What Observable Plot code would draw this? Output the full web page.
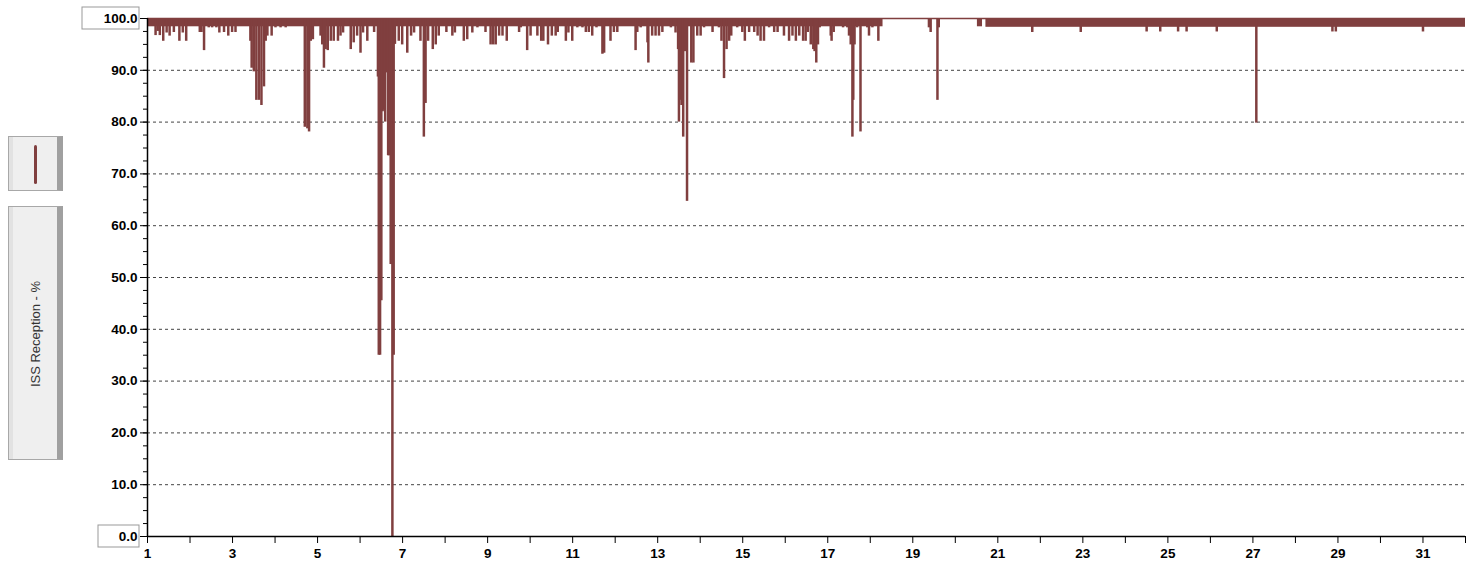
<!DOCTYPE html>
<html>
<head>
<meta charset="utf-8">
<script src="https://cdn.jsdelivr.net/npm/d3@7"></script>
<script src="https://cdn.jsdelivr.net/npm/@observablehq/plot@0.6"></script>
<style>
  html, body { margin: 0; padding: 0; background: #fff; }
  #wrap { position: relative; width: 1478px; height: 567px; overflow: hidden; }
  #chart { position: absolute; left: 0; top: 0; }
  .lbox { position: absolute; left: 8px; width: 48px; background: #efefef;
          border: 1px solid #a8a8a8; border-right: 6px solid #a0a0a0; box-sizing: content-box; }
  .lbox::before { content: ""; position: absolute; left: 0; top: 0; bottom: 0; width: 4px; background: #e2e2e2; }
  #swatch { top: 136px; height: 53px; }
  #swatch .line { position: absolute; left: 25px; top: 8px; width: 3px; height: 39px; border-radius: 2px; background: #803f3f; }
  #title { top: 206px; height: 252px; }
  #title span { position: absolute; left: 26px; top: 127px; transform: translate(-50%, -50%) rotate(-90deg);
                white-space: nowrap; font: 13px "Liberation Sans", Arial, sans-serif; color: #333; }
</style>
</head>
<body>
<div id="wrap">
  <div id="chart"></div>
  <div class="lbox" id="swatch"><div class="line"></div></div>
  <div class="lbox" id="title"><span>ISS Reception - %</span></div>
</div>
<script>
// ---- data (day of month, reception %) ----
const bandStart = [1.0, 20.52, 20.72];
const bandEnd   = [18.3, 20.64, 32.0];
const bandLow   = [98.4, 98.4, 98.3];

const dipDays = [
  1.19, 1.24, 1.29, 1.37, 1.45, 1.52, 1.62, 1.75, 1.83, 1.91,
  2.23, 2.27, 2.33, 2.44, 2.52, 2.62, 2.69, 2.80, 2.90, 2.99, 3.07,
  3.42, 3.45, 3.50, 3.56, 3.62, 3.68, 3.74, 3.78, 3.82, 3.92,
  4.01, 4.13, 4.25, 4.70, 4.76, 4.80, 4.84, 4.89,
  5.07, 5.11, 5.15, 5.19, 5.24, 5.31, 5.38, 5.48, 5.54, 5.60, 5.78, 5.85, 5.93,
  6.01, 6.07, 6.17, 6.33,
  6.42, 6.44, 6.47, 6.50, 6.53, 6.56, 6.59, 6.62, 6.66, 6.69, 6.72, 6.76, 6.79, 6.82,
  6.91, 6.99, 7.11, 7.20, 7.27, 7.42, 7.50, 7.54, 7.60, 7.71, 7.78, 7.85,
  8.03, 8.17, 8.23, 8.44, 8.52, 8.64, 8.76, 8.95,
  9.07, 9.13, 9.19, 9.27, 9.35, 9.45, 9.74, 9.78, 9.93,
  10.01, 10.17, 10.26, 10.31, 10.42, 10.51, 10.60, 10.65, 10.84, 10.90, 10.99,
  11.11, 11.23, 11.31, 11.38, 11.46, 11.56, 11.70, 11.74, 11.89, 11.97,
  12.05, 12.48, 12.52, 12.60, 12.76, 12.78, 12.87, 12.95,
  13.03, 13.11, 13.31, 13.42, 13.48, 13.50, 13.53, 13.56, 13.60, 13.64, 13.69, 13.79, 13.84, 13.93,
  14.01, 14.09, 14.29, 14.44, 14.50, 14.56, 14.62, 14.68, 14.73, 14.87, 14.99,
  15.05, 15.15, 15.27, 15.35, 15.42, 15.50, 15.62, 15.74, 15.82, 15.97,
  16.09, 16.17, 16.25, 16.33, 16.42, 16.48, 16.53, 16.60, 16.66, 16.69, 16.73, 16.77, 16.81,
  17.07, 17.09, 17.14, 17.36, 17.46, 17.50, 17.54, 17.58, 17.60, 17.63, 17.69, 17.77, 17.93, 17.97,
  18.05, 18.19, 19.38, 19.42, 19.58, 19.61,
  21.81, 22.95, 24.50, 24.82, 25.24, 25.44, 26.15, 27.08, 28.87, 28.95, 31.00
];
const dipValues = [
  96.7, 97.5, 96.7, 95.6, 97.2, 96.6, 97.3, 95.6, 97.2, 95.6,
  97.3, 97.3, 93.8, 98.2, 98.2, 98.2, 97.2, 97.3, 96.6, 97.3, 97.3,
  95.6, 90.4, 89.7, 84.2, 84.2, 83.2, 86.8, 95.6, 96.6, 96.6,
  98.2, 98.2, 98.2, 79.0, 78.7, 78.1, 95.6, 95.9,
  96.6, 94.9, 90.4, 94.0, 93.8, 95.6, 95.6, 95.6, 96.6, 97.2, 94.0, 95.3, 96.6,
  93.3, 97.2, 95.6, 97.3,
  88.7, 35.0, 35.0, 45.5, 82.0, 82.3, 80.0, 89.5, 73.5, 73.5, 52.5, 0.0, 35.0, 95.0,
  95.6, 94.9, 93.3, 96.6, 97.2, 95.6, 77.1, 83.6, 95.6, 94.0, 94.9, 96.6,
  97.3, 96.6, 97.2, 95.6, 95.9, 97.2, 98.2, 97.3,
  94.9, 94.9, 94.9, 96.6, 96.6, 95.6, 97.3, 98.2, 93.8,
  96.6, 96.6, 95.6, 95.6, 94.9, 96.6, 96.6, 97.3, 95.6, 97.2, 95.6,
  98.2, 98.2, 97.3, 97.3, 96.6, 98.2, 93.1, 93.3, 95.6, 97.3,
  97.3, 93.8, 97.3, 98.2, 95.3, 91.4, 96.6, 96.6,
  96.6, 97.3, 98.2, 97.2, 94.0, 80.0, 84.2, 83.2, 77.1, 93.6, 64.7, 91.4, 91.4, 96.6,
  96.6, 98.2, 97.3, 98.2, 95.6, 88.4, 94.0, 95.6, 96.6, 98.2, 97.3,
  95.6, 97.3, 97.3, 96.6, 95.6, 95.6, 98.2, 97.3, 97.3, 96.6,
  95.6, 96.6, 95.6, 96.6, 95.6, 95.6, 97.3, 94.9, 94.0, 93.6, 91.4, 94.9, 98.2,
  96.6, 95.6, 97.3, 98.2, 98.2, 96.6, 94.9, 77.1, 84.2, 94.9, 98.2, 78.1, 98.2, 96.6,
  98.2, 95.6, 98.2, 97.3, 84.2, 98.2,
  97.3, 97.3, 97.4, 97.4, 97.4, 97.4, 97.4, 79.8, 97.4, 97.4, 97.4
];

const yMajor = [0, 10, 20, 30, 40, 50, 60, 70, 80, 90, 100];
const yMinor = d3.range(0, 100.01, 2.5);
const xTicks = d3.range(1, 33);

const bands = bandStart.map((s, i) => ({start: s, end: bandEnd[i], low: bandLow[i]}));
const dips = dipDays.map((d, i) => ({day: d, value: dipValues[i]}));
const red = "#803f3f";

const plot = Plot.plot({
  width: 1478,
  height: 567,
  marginLeft: 147,
  marginRight: 13,
  marginTop: 18,
  marginBottom: 31,
  x: {domain: [1, 32]},
  y: {domain: [0, 100]},
  style: {fontFamily: "'Liberation Sans', Arial, sans-serif", fontSize: "13.5px", fontWeight: "bold", color: "#000", background: "transparent"},
  marks: [
    Plot.gridY(yMajor.filter(d => d > 0 && d < 100), {stroke: "#444", strokeOpacity: 1, strokeDasharray: "3,3"}),
    Plot.rect(bands, {x1: "start", x2: "end", y1: "low", y2: 100, fill: red}),
    Plot.ruleX(dips, {x: "day", y1: "value", y2: 100, stroke: red, strokeWidth: 2.5}),
    Plot.ruleY([100], {x1: 1, x2: 32, stroke: red, strokeWidth: 1.5}),
    Plot.axisY(yMinor, {tickSize: 4, tickFormat: () => "", stroke: "#000"}),
    Plot.axisY(yMajor, {tickSize: 7, tickPadding: 3, tickFormat: d => d.toFixed(1), label: null, stroke: "#000"}),
    Plot.axisX(xTicks, {tickSize: 7, tickPadding: 5, tickFormat: d => (d % 2 ? String(d) : ""), label: null, stroke: "#000"}),
    Plot.ruleX([1], {y1: 0, y2: 100, stroke: "#000", strokeWidth: 1.5}),
    Plot.ruleY([0], {x1: 1, x2: 32, stroke: "#000", strokeWidth: 1.5})
  ]
});

// boxes around the end labels of the y axis, placed via the plot's own scales
const ys = plot.scale("y"), xs = plot.scale("x");
const x0 = xs.apply(1);
const svg = d3.select(plot);
[[100, 65], [0, 49]].forEach(([v, w]) => {
  svg.append("rect")
    .attr("x", x0 - w).attr("y", ys.apply(v) - 11)
    .attr("width", w - 8).attr("height", 22)
    .attr("fill", "none").attr("stroke", "#999").attr("stroke-width", 1);
});
document.getElementById("chart").appendChild(plot);
</script>
</body>
</html>
